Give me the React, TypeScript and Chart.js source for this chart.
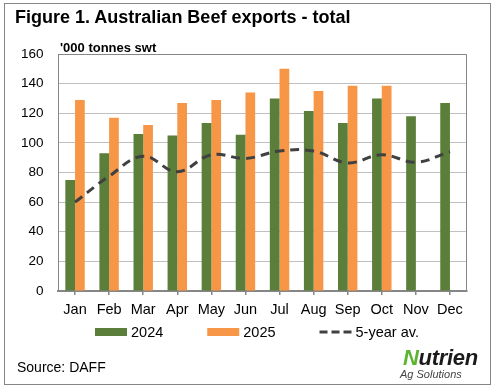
import React, { useEffect, useRef } from "react";
import { Chart, registerables } from "chart.js";

Chart.register(...registerables);

const months = ["Jan", "Feb", "Mar", "Apr", "May", "Jun", "Jul", "Aug", "Sep", "Oct", "Nov", "Dec"];
const exports2024 = [75, 93, 106, 105, 113.5, 105.5, 130, 121.5, 113.5, 130, 118, 127];
const exports2025 = [129, 117, 112, 127, 129, 134, 150, 135, 138.5, 138.5, null, null];
const fiveYearAvg = [60, 77.5, 91, 80.5, 92, 89.5, 94.5, 94.5, 86.5, 92, 87, 94];
const yTicks = [0, 20, 40, 60, 80, 100, 120, 140, 160];

const FONT = "'Liberation Sans', Arial, sans-serif";
const GREEN = "#5b7f3a";
const ORANGE = "#f79646";
const LINE = "#404040";
const AXIS = "#868686";

const plotBorder = {
  id: "plotBorder",
  afterDatasetsDraw(chart: any) {
    const { ctx, chartArea } = chart;
    ctx.save();
    ctx.strokeStyle = AXIS;
    ctx.lineWidth = 1;
    ctx.beginPath();
    ctx.moveTo(chartArea.left + 0.5, chartArea.bottom);
    ctx.lineTo(chartArea.left + 0.5, chartArea.top + 0.5);
    ctx.lineTo(chartArea.right - 0.5, chartArea.top + 0.5);
    ctx.lineTo(chartArea.right - 0.5, chartArea.bottom);
    ctx.stroke();
    ctx.restore();
  },
};

const customLegend = {
  id: "customLegend",
  afterDraw(chart: any) {
    const { ctx } = chart;
    const ds = chart.data.datasets;
    const items = [ds[0], ds[1], ds[2]];
    ctx.save();
    ctx.font = `14.5px ${FONT}`;
    ctx.textBaseline = "middle";
    ctx.fillStyle = "#000";
    let x = 95;
    const y = 332;
    const boxW = 32;
    items.forEach((d: any) => {
      if (d.type === "line") {
        ctx.strokeStyle = d.borderColor;
        ctx.lineWidth = 3;
        ctx.setLineDash([8, 4]);
        ctx.beginPath();
        ctx.moveTo(x, y);
        ctx.lineTo(x + boxW, y);
        ctx.stroke();
        ctx.setLineDash([]);
      } else {
        ctx.fillStyle = d.backgroundColor;
        ctx.fillRect(x, y - 4, boxW, 8);
      }
      ctx.fillStyle = "#000";
      ctx.fillText(d.label, x + boxW + 4, y + 1);
      x += boxW + 4 + ctx.measureText(d.label).width + 44;
    });
    ctx.restore();
  },
};

export default function App() {
  const ref = useRef<HTMLCanvasElement>(null);

  useEffect(() => {
    if (!ref.current) return;
    const chart = new Chart(ref.current, {
      type: "bar",
      data: {
        labels: months,
        datasets: [
          {
            type: "bar",
            label: "2024",
            data: exports2024,
            backgroundColor: GREEN,
            categoryPercentage: 0.57,
            barPercentage: 1.0,
            order: 1,
          },
          {
            type: "bar",
            label: "2025",
            data: exports2025 as any,
            backgroundColor: ORANGE,
            categoryPercentage: 0.57,
            barPercentage: 1.0,
            order: 1,
          },
          {
            type: "line",
            label: "5-year av.",
            data: fiveYearAvg,
            borderColor: LINE,
            backgroundColor: LINE,
            borderWidth: 3,
            borderDash: [9, 6],
            tension: 0.4,
            pointRadius: 0,
            fill: false,
            order: 0,
          } as any,
        ],
      },
      options: {
        animation: false,
        responsive: false,
        layout: { padding: { left: 22, right: 28, top: 54, bottom: 72 } },
        plugins: {
          legend: { display: false },
          tooltip: { enabled: false },
          title: { display: false },
        },
        scales: {
          x: {
            offset: true,
            grid: {
              display: true,
              drawOnChartArea: false,
              drawTicks: true,
              tickLength: 4,
              offset: false,
              color: AXIS,
              lineWidth: 1.5,
            },
            border: { display: true, color: AXIS, width: 2 },
            ticks: {
              color: "#000",
              font: { family: FONT, size: 14.5 },
              padding: 6,
              maxRotation: 0,
              autoSkip: false,
            },
            afterFit: (s: any) => {
              s.height = 28;
            },
          },
          y: {
            min: 0,
            max: 160,
            afterBuildTicks: (s: any) => {
              s.ticks = yTicks.map((v) => ({ value: v }));
            },
            grid: { color: "#c0c0c0", lineWidth: 1, drawTicks: false },
            border: { display: true, color: AXIS, width: 1 },
            ticks: {
              color: "#000",
              font: { family: FONT, size: 13.5 },
              padding: 14.5,
            },
            afterFit: (s: any) => {
              s.width = 36;
            },
          },
        },
      },
      plugins: [plotBorder, customLegend],
    });
    return () => chart.destroy();
  }, []);

  return (
    <div style={{ position: "absolute", left: 0, top: 0, width: 495, height: 391, background: "#fff", fontFamily: FONT }}>
      <div
        style={{
          position: "absolute",
          left: 4,
          top: 3,
          width: 485,
          height: 380,
          border: "1px solid #868686",
        }}
      />
      <canvas ref={ref} width={495} height={391} style={{ position: "absolute", left: 0, top: 0, display: "block" }} />
      <div style={{ position: "absolute", left: 15, top: 7, fontSize: 18, lineHeight: "20px", fontWeight: "bold", color: "#000", whiteSpace: "nowrap" }}>
        Figure 1. Australian Beef exports - total
      </div>
      <div style={{ position: "absolute", left: 60, top: 40, fontSize: 13, lineHeight: "15px", fontWeight: "bold", color: "#000", whiteSpace: "nowrap" }}>
        '000 tonnes swt
      </div>
      <div style={{ position: "absolute", left: 17, top: 359, fontSize: 14, lineHeight: "16px", color: "#000", whiteSpace: "nowrap" }}>
        Source: DAFF
      </div>
      <div style={{ position: "absolute", left: 403, top: 346, fontSize: 22, lineHeight: "24px", fontWeight: "bold", fontStyle: "italic", color: "#1b1b1b", whiteSpace: "nowrap", letterSpacing: -0.3 }}>
        <span style={{ color: "#5cb531" }}>N</span>utrien
      </div>
      <div style={{ position: "absolute", left: 400, top: 368, fontSize: 11, lineHeight: "13px", fontStyle: "italic", color: "#444", whiteSpace: "nowrap" }}>
        Ag Solutions
      </div>
    </div>
  );
}
